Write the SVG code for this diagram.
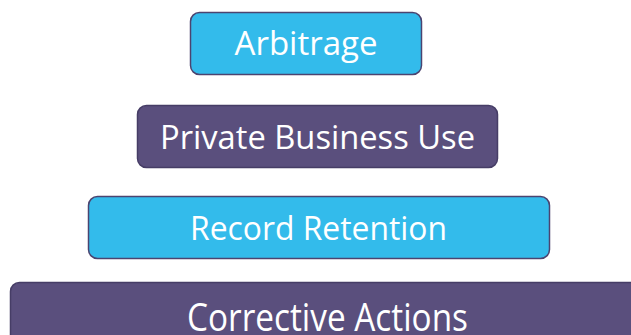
<svg xmlns="http://www.w3.org/2000/svg" width="631" height="335" viewBox="0 0 631 335">
<style>
.blue{fill:#33bbeb;stroke:#4b4470;stroke-width:1.5}
.purple{fill:#5a4f7d;stroke:#463d66;stroke-width:1.5}
.t{font-family:"Open Sans","Noto Sans",sans-serif;font-size:32px;fill:#ffffff;text-anchor:middle}
</style>
<rect width="631" height="335" fill="#ffffff"/>
<g id="arbitrage">
<rect class="blue" x="190.5" y="12.5" width="231" height="62" rx="9"/>
<text class="t" x="306" y="55" textLength="143" lengthAdjust="spacingAndGlyphs">Arbitrage</text>
</g>
<g id="private-business-use">
<rect class="purple" x="137.5" y="105.5" width="360" height="62" rx="9"/>
<text class="t" x="317.5" y="149" textLength="315" lengthAdjust="spacingAndGlyphs">Private Business Use</text>
</g>
<g id="record-retention">
<rect class="blue" x="88.5" y="196.5" width="461" height="62" rx="9"/>
<text class="t" x="318.5" y="240" textLength="257" lengthAdjust="spacingAndGlyphs">Record Retention</text>
</g>
<g id="corrective-actions">
<rect class="purple" x="10.5" y="282.5" width="640" height="70" rx="9"/>
<text class="t" x="327.5" y="331" textLength="281" lengthAdjust="spacingAndGlyphs" style="font-size:38px">Corrective Actions</text>
</g>
<g id="connectors"></g>
</svg>
